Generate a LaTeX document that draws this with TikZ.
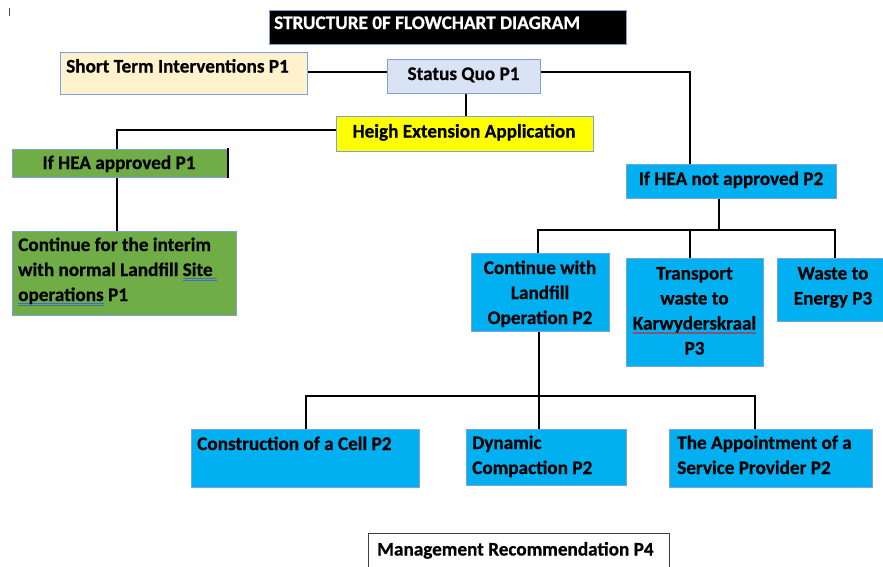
\documentclass[tikz,border=0pt]{standalone}
\usepackage{fontspec}
\setmainfont{Carlito}[BoldFeatures={FakeBold=0.6}]
\usetikzlibrary{decorations.pathmorphing}
\definecolor{bordblue}{HTML}{7F9FDA}
\definecolor{stfill}{HTML}{FFF2CC}
\definecolor{sqfill}{HTML}{DAE3F3}
\definecolor{yel}{HTML}{FFFF00}
\definecolor{grn}{HTML}{70AD47}
\definecolor{cyanb}{HTML}{00B0F0}
\definecolor{ulblue}{HTML}{3B6FC4}
\newcommand\dblu[1]{\leavevmode\setbox0\hbox{#1}\rlap{\textcolor{ulblue}{\rule[-3pt]{\wd0}{0.6pt}}}\rlap{\textcolor{ulblue}{\rule[-4.8pt]{\wd0}{0.6pt}}}\box0\relax}
\newcommand\nodefnt{\bfseries\fontsize{19.2}{25}\selectfont}
\newcommand\ltab[1]{\begin{tabular}[t]{@{}l@{}}#1\end{tabular}}
\newcommand\ctab[1]{\begin{tabular}[t]{@{}c@{}}#1\end{tabular}}
\newlength\kwlen
\begin{document}
\settowidth{\kwlen}{\bfseries\fontsize{19.2}{25}\selectfont Karwyderskraal}%
\begin{tikzpicture}[x=1pt,y=-1pt,
  every node/.style={font=\nodefnt, text=black},
  box/.style={draw=bordblue, line width=0.8pt, inner sep=0pt, anchor=north west},
  conn/.style={draw=black, line width=1.6pt},
  lt/.style={inner sep=0pt, anchor=base west},
  ct/.style={inner sep=0pt, anchor=base}]
\fill[white] (0,0) rectangle (883,566);
\useasboundingbox (0,0) rectangle (883,566);
\draw[line width=0.6pt, black!70] (9,8) -- (9,16);
% boxes
\node[box, fill=black, minimum width=357pt, minimum height=34pt] (ti) at (269,10) {};
\node[lt, text=white] (tit) at (274,29) {STRUCTURE 0F FLOWCHART DIAGRAM};
\node[box, fill=stfill, minimum width=247pt, minimum height=42pt] (st) at (60,52) {};
\node[lt] (stt) at (66,72.5) {Short Term Interventions P1};
\node[box, fill=sqfill, minimum width=153pt, minimum height=34pt] (sq) at (387,59) {};
\node[ct] (sqt) at (463.5,80) {Status Quo P1};
\node[box, fill=yel, minimum width=257pt, minimum height=35pt] (he) at (336,116) {};
\node[ct] (het) at (464,137.5) {Heigh Extension Application};
\node[box, fill=grn, minimum width=215pt, minimum height=28pt] (ha) at (12,149) {};
\node[ct] (hat) at (119,169) {If HEA approved P1};
\node[box, fill=grn, minimum width=224pt, minimum height=84pt] (ci) at (12,231) {};
\node[lt] (cit) at (18,251) {\ltab{Continue for the interim\\with normal Landfill \dblu{Site\ }\\\dblu{operations} P1}};
\node[box, fill=cyanb, minimum width=210pt, minimum height=34pt] (hn) at (626,164) {};
\node[ct] (hnt) at (731,185) {If HEA not approved P2};
\node[box, fill=cyanb, minimum width=138pt, minimum height=78pt] (cl) at (471,253) {};
\node[ct] (clt) at (540,274) {\ctab{Continue with\\Landfill\\Operation P2}};
\node[box, fill=cyanb, minimum width=137pt, minimum height=108pt] (tr) at (626,258) {};
\node[ct] (trt) at (694.5,279.5) {\ctab{Transport\\waste to\\Karwyderskraal\\P3}};
\coordinate (kw) at (694.5,333);
\draw[red, line width=0.5pt, decorate, decoration={snake, amplitude=0.7pt, segment length=2.5pt}]
  ([xshift=-0.5\kwlen]kw) -- ([xshift=0.5\kwlen]kw);
\node[box, fill=cyanb, minimum width=112pt, minimum height=63pt] (we) at (777,258) {};
\node[ct] (wet) at (833,279.5) {\ctab{Waste to\\Energy P3}};
\node[box, fill=cyanb, minimum width=228pt, minimum height=58pt] (cc) at (191,429) {};
\node[lt] (cct) at (197,450) {Construction of a Cell P2};
\node[box, fill=cyanb, minimum width=160pt, minimum height=56pt] (dc) at (466,429) {};
\node[lt] (dct) at (472,449) {\ltab{Dynamic\\Compaction P2}};
\node[box, fill=cyanb, minimum width=203pt, minimum height=58pt] (ap) at (669,429) {};
\node[lt] (apt) at (677,449) {\ltab{The Appointment of a\\Service Provider P2}};
\node[box, draw=black!75, fill=white, minimum width=301pt, minimum height=45pt] (mr) at (368,533) {};
\node[lt] (mrt) at (377,555.5) {Management Recommendation P4};
% junction coordinates
\coordinate (j1) at (690,72);
\coordinate (j2) at (466,100);
\coordinate (j3) at (117,130);
\coordinate (j4) at (719,230);
\coordinate (j5) at (538,230);
\coordinate (j6) at (835,230);
\coordinate (j7) at (539,396);
\coordinate (j8) at (306,396);
\coordinate (j9) at (755,396);
% connectors
\draw[conn] (st.east |- j1) -- (sq.west |- j1);
\draw[conn] (sq.east |- j1) -- (j1) -- (j1 |- hn.north);
\draw[conn] (j2 |- sq.south) -- (j2 |- he.north);
\draw[conn] (he.west |- j3) -- (j3) -- (j3 |- ha.north);
\draw[conn] (j3 |- ha.south) -- (j3 |- ci.north);
\draw[conn] (ha.north east) ++(0,-1) -- (ha.south east);
\draw[conn] (j4 |- hn.south) -- (j4);
\draw[conn] (j5 |- cl.north) -- (j5) -- (j6) -- (j6 |- we.north);
\draw[conn] (j1 |- j4) -- (j1 |- tr.north);
\draw[conn] (j7 |- cl.south) -- (j7 |- dc.north);
\draw[conn] (j8 |- cc.north) -- (j8) -- (j9) -- (j9 |- ap.north);
\end{tikzpicture}
\end{document}
